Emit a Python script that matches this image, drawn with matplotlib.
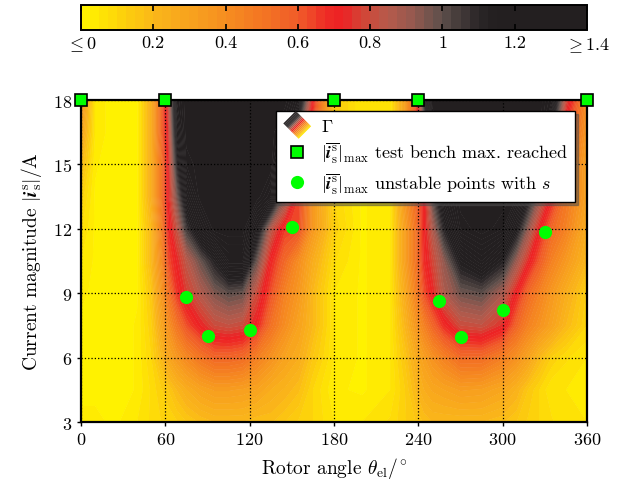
import numpy as np
import matplotlib
matplotlib.use("Agg")
import matplotlib.pyplot as plt
from matplotlib.colors import LinearSegmentedColormap, BoundaryNorm
from matplotlib.legend_handler import HandlerBase
from matplotlib.patches import Polygon, Patch
from matplotlib.lines import Line2D
import matplotlib.cm as mcm

plt.rcParams['font.family'] = 'serif'
plt.rcParams['font.serif'] = ['cmr10']
plt.rcParams['mathtext.fontset'] = 'cm'
plt.rcParams['axes.formatter.use_mathtext'] = True

# ---------------- data ----------------
angles = [0, 10, 25, 40, 50, 57, 62, 68, 75, 85, 95, 105, 115, 125, 135, 145, 155, 165,
          180, 200, 220, 230, 238, 244, 250, 258, 270, 285, 300, 310, 318, 326, 335, 345, 360]
currents = [3, 4.5, 6, 7.5, 9, 10.5, 12, 13.5, 15, 16.5, 18]

gamma_3 = [0.03, 0.03, 0.02, 0.05, 0.08, 0.10, 0.10, 0.12, 0.15, 0.18, 0.20, 0.20, 0.20, 0.18, 0.18, 0.15, 0.12, 0.10,
           0.05, 0.05, 0.08, 0.12, 0.15, 0.18, 0.20, 0.20, 0.20, 0.20, 0.18, 0.15, 0.12, 0.10, 0.08, 0.05, 0.05]
gamma_4p5 = [0.02, 0.02, 0.00, 0.03, 0.08, 0.12, 0.15, 0.20, 0.25, 0.30, 0.33, 0.33, 0.32, 0.30, 0.25, 0.22, 0.18, 0.10,
             0.03, 0.02, 0.05, 0.12, 0.20, 0.25, 0.28, 0.30, 0.33, 0.32, 0.28, 0.22, 0.15, 0.10, 0.05, 0.05, 0.03]
gamma_6 = [0.02, 0.02, 0.00, 0.03, 0.10, 0.20, 0.28, 0.35, 0.42, 0.50, 0.56, 0.56, 0.54, 0.46, 0.38, 0.30, 0.25, 0.15,
           0.05, 0.02, 0.05, 0.15, 0.25, 0.32, 0.38, 0.45, 0.54, 0.54, 0.46, 0.38, 0.30, 0.20, 0.12, 0.08, 0.05]
gamma_7p5 = [0.02, 0.02, 0.00, 0.03, 0.12, 0.28, 0.38, 0.50, 0.62, 0.72, 0.80, 0.82, 0.80, 0.70, 0.52, 0.40, 0.30, 0.20,
             0.05, 0.02, 0.05, 0.20, 0.35, 0.45, 0.56, 0.68, 0.80, 0.82, 0.74, 0.56, 0.45, 0.38, 0.30, 0.20, 0.10]
gamma_9 = [0.03, 0.02, 0.00, 0.02, 0.15, 0.35, 0.50, 0.66, 0.76, 0.86, 0.95, 1.00, 0.98, 0.80, 0.62, 0.45, 0.35, 0.20,
           0.05, 0.02, 0.05, 0.25, 0.45, 0.62, 0.72, 0.86, 0.97, 1.00, 0.88, 0.70, 0.55, 0.45, 0.35, 0.25, 0.12]
gamma_10p5 = [0.05, 0.02, 0.00, 0.02, 0.20, 0.40, 0.62, 0.72, 0.84, 0.98, 1.12, 1.30, 1.30, 0.98, 0.70, 0.55, 0.40, 0.25,
              0.08, 0.02, 0.05, 0.30, 0.50, 0.68, 0.78, 0.92, 1.15, 1.25, 1.12, 0.90, 0.74, 0.60, 0.45, 0.35, 0.20]
gamma_12 = [0.08, 0.02, 0.00, 0.02, 0.20, 0.45, 0.68, 0.82, 1.05, 1.25, 1.40, 1.40, 1.40, 1.20, 0.85, 0.66, 0.62, 0.35,
            0.12, 0.02, 0.05, 0.30, 0.50, 0.70, 0.86, 1.10, 1.35, 1.40, 1.35, 1.15, 0.92, 0.72, 0.55, 0.45, 0.25]
gamma_13p5 = [0.12, 0.02, 0.00, 0.02, 0.25, 0.50, 0.72, 0.95, 1.22, 1.40, 1.40, 1.40, 1.40, 1.40, 1.30, 0.95, 0.65, 0.35,
              0.10, 0.02, 0.05, 0.35, 0.55, 0.70, 1.00, 1.25, 1.40, 1.40, 1.40, 1.35, 1.15, 0.92, 0.70, 0.50, 0.30]
gamma_15 = [0.20, 0.03, 0.00, 0.02, 0.25, 0.50, 0.72, 1.08, 1.35, 1.40, 1.40, 1.40, 1.40, 1.40, 1.40, 1.08, 0.72, 0.40,
            0.12, 0.03, 0.05, 0.30, 0.60, 0.80, 1.10, 1.35, 1.40, 1.40, 1.40, 1.40, 1.40, 1.15, 0.82, 0.55, 0.30]
gamma_16p5 = [0.30, 0.05, 0.00, 0.02, 0.25, 0.55, 0.75, 1.20, 1.40, 1.40, 1.40, 1.40, 1.40, 1.40, 1.40, 1.30, 1.00, 0.60,
              0.15, 0.05, 0.05, 0.30, 0.60, 0.90, 1.30, 1.40, 1.40, 1.40, 1.40, 1.40, 1.40, 1.40, 1.10, 0.65, 0.35]
gamma_18 = [0.40, 0.05, 0.00, 0.02, 0.25, 0.55, 0.80, 1.30, 1.40, 1.40, 1.40, 1.40, 1.40, 1.40, 1.40, 1.40, 1.25, 0.70,
            0.15, 0.05, 0.05, 0.30, 0.60, 1.10, 1.40, 1.40, 1.40, 1.40, 1.40, 1.40, 1.40, 1.40, 1.30, 0.80, 0.40]

gamma_rows = [gamma_3, gamma_4p5, gamma_6, gamma_7p5, gamma_9, gamma_10p5,
              gamma_12, gamma_13p5, gamma_15, gamma_16p5, gamma_18]

max_angles = [0, 60, 180, 240, 360]
max_currents = [18, 18, 18, 18, 18]

unstable_angles = [75, 90, 120, 150, 255, 270, 300, 330]
unstable_currents = [8.8, 7.0, 7.3, 12.1, 8.65, 6.95, 8.2, 11.85]

cbar_ticks = [0, 0.2, 0.4, 0.6, 0.8, 1.0, 1.2, 1.4]
cbar_labels = [r'$\leq 0$', '0.2', '0.4', '0.6', '0.8', '1', '1.2', r'$\geq 1.4$']

# ---------------- colormap ----------------
cmap_pts = [(0.0, '#FFF200'), (0.1, '#FDD20B'), (0.2, '#FAB51A'), (0.3, '#F8A11E'),
            (0.4, '#F68B20'), (0.5, '#F37423'), (0.6, '#F05A29'), (0.67, '#EE2E26'),
            (0.72, '#ED2024'), (0.78, '#D24636'), (0.85, '#B65A4B'), (0.92, '#94594F'),
            (1.0, '#5E504C'), (1.05, '#443B3A'), (1.1, '#2C2728'), (1.15, '#231F20'),
            (1.4, '#231F20')]
cmap = LinearSegmentedColormap.from_list('gam', [(v / 1.4, c) for v, c in cmap_pts])
levels = np.linspace(0, 1.4, 57)
norm = BoundaryNorm(levels, cmap.N)

fig = plt.figure(figsize=(6.29, 4.85), dpi=100)
ax = fig.add_axes([81 / 629, 1 - 423 / 485, 506 / 629, 322 / 485])
cax = fig.add_axes([81 / 629, 1 - 31 / 485, 506 / 629, 25 / 485])

Z = np.clip(np.array(gamma_rows), 0, 1.3999)
ax.contourf(angles, currents, Z, levels=levels, cmap=cmap, norm=norm, antialiased=True)
ax.contourf(angles, currents, Z, levels=levels, cmap=cmap, norm=norm, antialiased=True)

ax.set_xlim(0, 360)
ax.set_ylim(3, 18)
ax.set_xticks([0, 60, 120, 180, 240, 300, 360])
ax.set_yticks([3, 6, 9, 12, 15, 18])
ax.tick_params(direction='out', length=3, width=1, labelsize=13)
ax.grid(True, color='k', linestyle=':', linewidth=0.9)
ax.set_axisbelow(False)
for s in ax.spines.values():
    s.set_linewidth(1.6)
    s.set_zorder(6)

ax.plot(max_angles, max_currents, 's', ms=8.5, mfc='#00FF00', mec='k', mew=1.2,
        clip_on=False, zorder=10)
ax.plot(unstable_angles, unstable_currents, 'o', ms=9.5, mfc='#00FF00', mec='none',
        zorder=9)

ax.set_xlabel(r'Rotor angle $\theta_{\mathrm{el}}/^{\circ}$', fontsize=14, labelpad=6)
ax.set_ylabel(r'Current magnitude $|\mathbfit{i}_{\mathrm{s}}^{\mathrm{s}}|/\mathrm{A}$',
              fontsize=14, labelpad=6)

# colorbar
sm = mcm.ScalarMappable(norm=norm, cmap=cmap)
cb = fig.colorbar(sm, cax=cax, orientation='horizontal', ticks=cbar_ticks)
cb.ax.minorticks_off()
cb.ax.set_xticklabels(cbar_labels)
cb.ax.tick_params(direction='in', length=4, width=1.2, labelsize=13, top=True, bottom=True)
cb.outline.set_linewidth(1.4)


class GradHandler(HandlerBase):
    def create_artists(self, legend, orig_handle, xdescent, ydescent, width, height,
                       fontsize, trans):
        cx = width / 2 - xdescent
        cy = height / 2 - ydescent
        r = height * 1.1
        L = np.array([cx - r, cy + 0.1 * r])
        T = np.array([cx - 0.1 * r, cy + r])
        R = np.array([cx + r, cy - 0.1 * r])
        B = np.array([cx + 0.1 * r, cy - r])
        arts = []
        n = 16
        for i in range(n):
            t0, t1 = i / n, (i + 1) / n
            poly = [L + t0 * (B - L), T + t0 * (R - T), T + t1 * (R - T), L + t1 * (B - L)]
            val = 1.4 * (1 - (t0 + t1) / 2) * 1.05
            p = Polygon(poly, closed=True, facecolor=cmap(min(val, 1.4) / 1.4),
                        edgecolor='none', transform=trans)
            arts.append(p)
        return arts


h_gamma = Patch(facecolor='k')
h_sq = Line2D([], [], marker='s', ls='none', ms=8.5, mfc='#00FF00', mec='k', mew=1.2)
h_ci = Line2D([], [], marker='o', ls='none', ms=9.5, mfc='#00FF00', mec='none')
lab_i = r'$|\overline{\mathbfit{i}_{\mathrm{s}}^{\mathrm{s}}}|_{\max}$'
leg = ax.legend([h_gamma, h_sq, h_ci],
                [r'$\Gamma$', lab_i + ' test bench max. reached', lab_i + ' unstable points with $s$'],
                handler_map={Patch: GradHandler()},
                loc='upper right', bbox_to_anchor=(0.976, 0.966), borderaxespad=0,
                fontsize=13, fancybox=False, shadow=True, framealpha=1,
                edgecolor='k', handlelength=1.6, handletextpad=0.5, labelspacing=0.3,
                borderpad=0.4)
leg.get_frame().set_linewidth(1.0)
leg.set_zorder(20)

fig.savefig('out.png', dpi=100)
